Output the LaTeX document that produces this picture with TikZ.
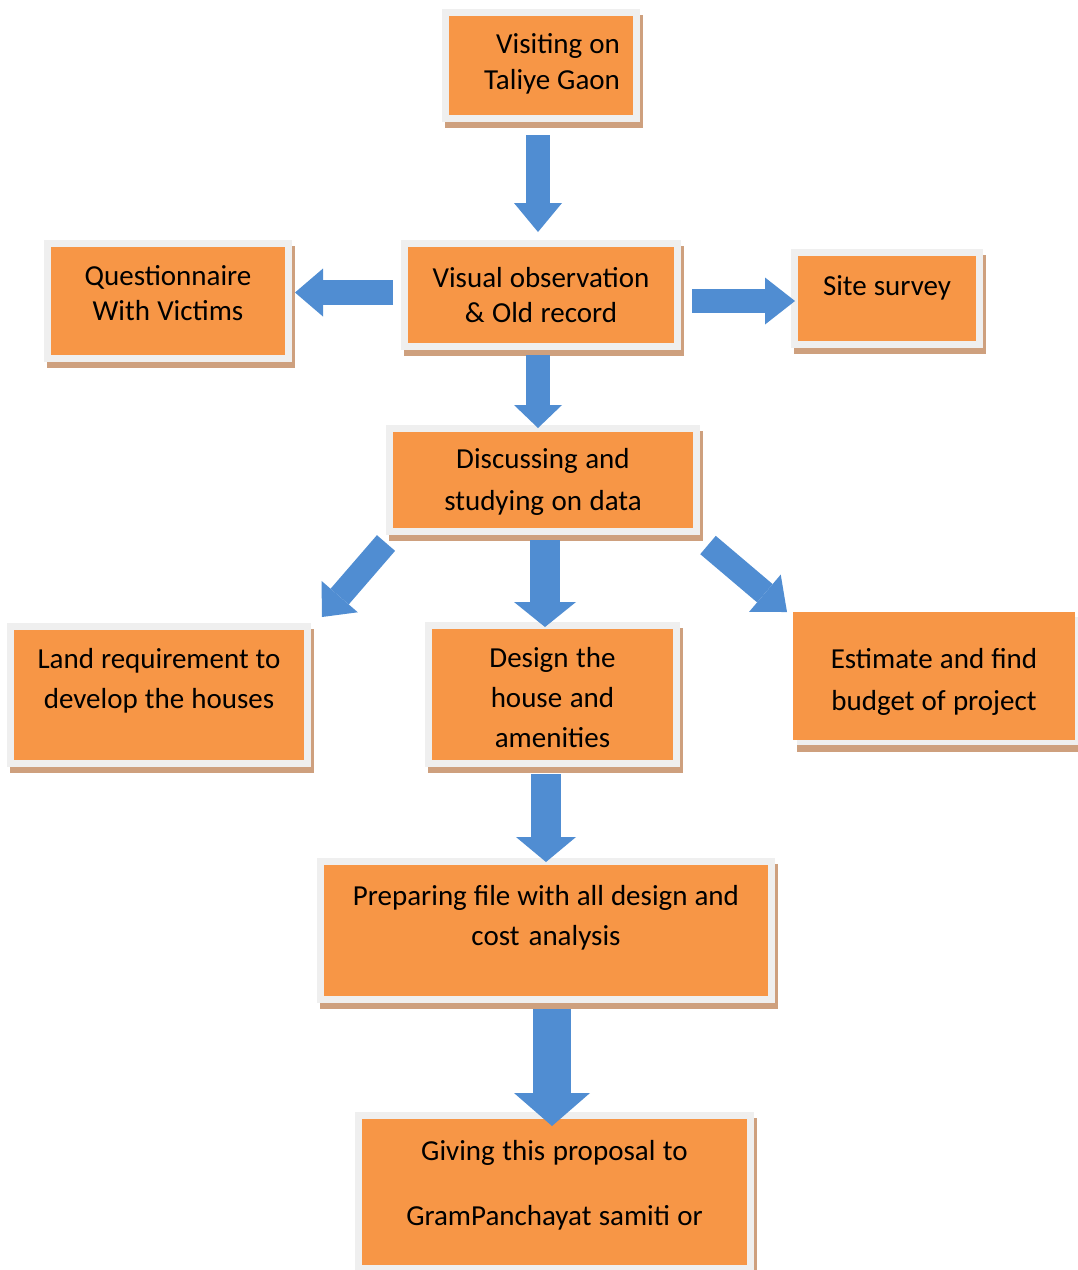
\documentclass[tikz,border=0pt]{standalone}
\usepackage{fontspec}
\setmainfont{Carlito}
\usetikzlibrary{arrows.meta, shadows}
\definecolor{colBox}{RGB}{247,150,70}
\definecolor{colFrame}{RGB}{239,239,239}
\definecolor{colShadow}{RGB}{206,160,126}
\definecolor{colArrow}{RGB}{80,141,210}
\newcommand\wordgap{\spaceskip=6.5pt plus 1pt minus 1pt\relax}

\begin{document}
\begin{tikzpicture}[
  x=1pt, y=-1pt,
  stage/.style={rectangle, fill=colBox, draw=colFrame, line width=7pt,
                inner xsep=0pt, inner ysep=0pt, align=center, anchor=north west,
                execute at begin node=\wordgap,
                general shadow={fill=colShadow, draw=colShadow, line width=7pt,
                                shadow xshift=3pt, shadow yshift=-6pt}},
  loose/.style={rectangle, fill=colBox, inner sep=0pt, outer sep=0pt,
                align=center, anchor=north west,
                execute at begin node=\wordgap,
                general shadow={fill=colShadow, shadow xshift=4pt, shadow yshift=-12pt},
                general shadow={fill=colFrame, shadow xshift=4pt, shadow yshift=-5pt}},
  txt/.style={font=\fontsize{29}{#1}\selectfont},
  blk/.style n args={3}{draw=colArrow, line width=#1,
                -{Triangle[width=#2, length=#3, line width=0pt]}},
]
\useasboundingbox (0,0) rectangle (1078,1270);

% Steps
\node[stage, txt=36, text width=158pt, inner xsep=16.5pt, align=right,
      text height=40.5pt, text depth=65.5pt] (visit) at (442,9) {Visiting on\\Taliye Gaon};
\node[stage, txt=35, text width=273pt, text height=43.5pt, text depth=59.5pt]
  (visual) at (401,240) {Visual observation\\\& Old record};
\node[stage, txt=35, text width=241pt, text height=41.5pt, text depth=73.5pt]
  (quest) at (44,240) {Questionnaire\\With Victims};
\node[stage, txt=35, text width=185pt, text height=42.5pt, text depth=49.5pt]
  (site) at (791,249) {Site survey};
\node[stage, txt=42, text width=307pt, text height=39.5pt, text depth=63.5pt]
  (disc) at (386,425) {Discussing and\\studying on data};
\node[stage, txt=40, text width=297pt, text height=41.5pt, text depth=95.5pt]
  (land) at (7,623) {Land requirement to\\develop the houses};
\node[stage, txt=40, text width=248pt, text height=41.5pt, text depth=96.5pt]
  (design) at (425,622) {Design the\\house and\\amenities};
\node[loose, txt=42, text width=282pt, text height=56pt, text depth=72pt]
  (est) at (793,612) {Estimate and find\\budget of project};
\node[stage, txt=40, text width=451pt, text height=43.5pt, text depth=94.5pt]
  (prep) at (317,858) {Preparing file with all design and\\cost analysis};
\node[stage, txt=65, text width=392pt, text height=44.5pt, text depth=108.5pt]
  (give) at (355,1112) {Giving this proposal to\\GramPanchayat samiti or};

% Block arrows
\draw[blk={24pt}{48pt}{29pt}] ([xshift=-3pt, yshift=-13pt]visit.south) -- ([xshift=-3pt, yshift=8pt]visual.north);
\draw[blk={25pt}{48pt}{28pt}] ([xshift=-8pt, yshift=2.5pt]visual.west) -- ([xshift=3pt, yshift=8.5pt]quest.east);
\draw[blk={24pt}{47pt}{30pt}] ([xshift=11pt, yshift=-6pt]visual.east) -- ([xshift=4pt, yshift=-2.5pt]site.west);
\draw[blk={24pt}{48pt}{23pt}] ([xshift=-3pt, yshift=-5pt]visual.south) -- ([xshift=-5pt, yshift=-3pt]disc.north);
\draw[blk={24pt}{48pt}{27pt}] ([yshift=-8pt]disc.south west) -- ([xshift=11pt, yshift=6pt]land.north east);
\draw[blk={30pt}{62pt}{25pt}] ([xshift=2pt, yshift=-5pt]disc.south) -- ([xshift=-7.5pt, yshift=-5pt]design.north);
\draw[blk={24pt}{49pt}{29pt}] ([xshift=8pt, yshift=-10pt]disc.south east) -- ([xshift=-6pt]est.north west);
\draw[blk={30pt}{60pt}{25pt}] ([xshift=-6.5pt, yshift=-7pt]design.south) -- ([yshift=-4pt]prep.north);
\draw[blk={38pt}{76pt}{33pt}] ([xshift=6pt, yshift=-6pt]prep.south) -- ([xshift=-2.5pt, yshift=-14pt]give.north);

\end{tikzpicture}
\end{document}
